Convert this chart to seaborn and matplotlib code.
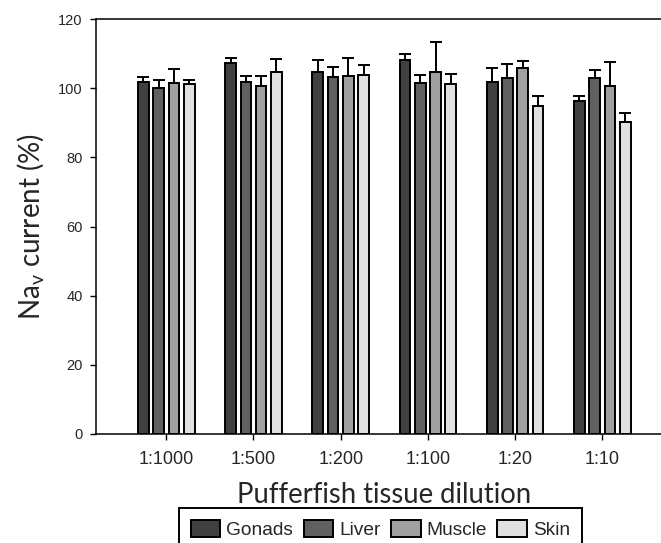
import matplotlib
matplotlib.use("Agg")
import matplotlib.pyplot as plt
import seaborn as sns
import pandas as pd
import numpy as np

dilutions = ["1:1000", "1:500", "1:200", "1:100", "1:20", "1:10"]
tissues = ["Gonads", "Liver", "Muscle", "Skin"]
gonads = [101.8, 107.4, 104.7, 108.1, 101.9, 96.2]
gonads_err = [1.6, 1.5, 3.6, 1.9, 4.1, 1.6]
liver = [100.2, 101.7, 103.2, 101.5, 103.1, 103.1]
liver_err = [2.2, 2.0, 3.1, 2.3, 3.9, 2.2]
muscle = [101.6, 100.8, 103.7, 104.7, 105.8, 100.6]
muscle_err = [4.0, 2.9, 5.1, 8.8, 2.0, 7.0]
skin = [101.2, 104.7, 104.0, 101.3, 94.8, 90.3]
skin_err = [1.2, 3.8, 2.8, 3.0, 2.9, 2.5]
colors = ["#404040", "#606060", "#a0a0a0", "#e0e0e0"]

values = [gonads, liver, muscle, skin]
errors = [gonads_err, liver_err, muscle_err, skin_err]

rows = []
for t, vals in zip(tissues, values):
    for d, v in zip(dilutions, vals):
        rows.append({"dilution": d, "tissue": t, "value": v})
df = pd.DataFrame(rows)

sns.set_style("ticks")
plt.rcParams["font.family"] = ["Liberation Sans", "DejaVu Sans"]
plt.rcParams["mathtext.default"] = "regular"

W, H = 661, 543
fig = plt.figure(figsize=(W / 100, H / 100), dpi=100)
ax_left = 96 / W
ax_bottom = (H - 433.7) / H
ax_height = (433.7 - 19.3) / H
ax_width = (672.6 - 96) / W
ax = fig.add_axes([ax_left, ax_bottom, ax_width, ax_height])

sns.barplot(data=df, x="dilution", y="value", hue="tissue", order=dilutions,
            hue_order=tissues, palette=colors, edgecolor="black", linewidth=1.4,
            width=0.70, gap=0.3, errorbar=None, saturation=1, ax=ax, legend=False)

bar_containers = list(ax.containers)
handles = []
for cont, err in zip(bar_containers, errors):
    xs = [p.get_x() + p.get_width() / 2 for p in cont]
    hs = [p.get_height() for p in cont]
    ax.errorbar(xs, hs, yerr=[np.zeros(len(err)), err], fmt="none", ecolor="black",
                elinewidth=1.4, capsize=4.3, capthick=1.4, zorder=1)
    handles.append(cont[0])

ax.set_xlim(-0.806, 5.806)
ax.set_ylim(0, 120)
ax.set_yticks(range(0, 121, 20))
ax.spines["right"].set_visible(False)
for s in ["left", "bottom", "top"]:
    ax.spines[s].set_linewidth(1.1)
    ax.spines[s].set_color("black")
ax.tick_params(axis="both", direction="out", length=4.5, width=1.0, color="black")
ax.tick_params(axis="y", labelsize=10.5, pad=5)
ax.tick_params(axis="x", labelsize=13, pad=8)

lab_font = ["Lato", "DejaVu Sans"]
ax.set_xlabel("Pufferfish tissue dilution", fontsize=19.8, family=lab_font, labelpad=10)
ax.set_ylabel("Na$_{v}$ current (%)", fontsize=20, family=lab_font, labelpad=8.5)

leg = ax.legend(handles, tissues, loc="upper center", bbox_to_anchor=(380.4 / W, 35 / H),
                bbox_transform=fig.transFigure, ncol=4, fontsize=13.8, frameon=True,
                fancybox=False, framealpha=1, edgecolor="black", handlelength=1.55,
                handleheight=1.0, handletextpad=0.3, columnspacing=0.55, borderpad=0.6,
                borderaxespad=0)
leg.get_frame().set_linewidth(1.4)

fig.savefig("out.png", dpi=100)
